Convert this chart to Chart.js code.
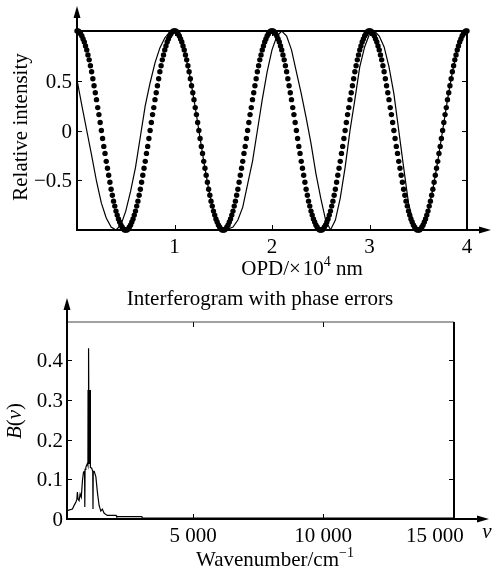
<!DOCTYPE html>
<html>
<head>
<meta charset="utf-8">
<script src="https://cdn.jsdelivr.net/npm/chart.js@4/dist/chart.umd.min.js"></script>
<style>
    html, body { margin: 0; padding: 0; background: #fff; }
    #wrap { position: relative; width: 493px; height: 569px; }
    #wrap canvas { position: absolute; left: 0; }
    #topChart { top: 0; }
    #bottomChart { top: 290px; }
</style>
</head>
<body>
<div id="wrap">
    <canvas id="topChart" width="493" height="290"></canvas>
    <canvas id="bottomChart" width="493" height="279"></canvas>
</div>
<script>
// ---- top: interferogram (OPD in 10^4 nm) ----
const dotStep = 0.0125;   // sampling of the ideal interferogram
const idealIntensity = [
    1,1,0.99,0.97,0.95,0.92,0.89,0.85,0.81,0.76,0.71,0.65,0.59,0.52,0.45,0.38,0.31,0.23,0.16,0.08,0,-0.08,-0.16,-0.23,-0.31,-0.38,-0.45,-0.52,-0.59,-0.65,-0.71,-0.76,-0.81,-0.85,-0.89,-0.92,-0.95,-0.97,-0.99,-1,-1,-1,-0.99,-0.97,-0.95,-0.92,-0.89,-0.85,-0.81,-0.76,-0.71,-0.65,-0.59,-0.52,-0.45,-0.38,-0.31,-0.23,-0.16,-0.08,0,0.08,0.16,0.23,0.31,0.38,0.45,0.52,0.59,0.65,0.71,0.76,0.81,0.85,0.89,0.92,0.95,0.97,0.99,1,
    1,1,0.99,0.97,0.95,0.92,0.89,0.85,0.81,0.76,0.71,0.65,0.59,0.52,0.45,0.38,0.31,0.23,0.16,0.08,0,-0.08,-0.16,-0.23,-0.31,-0.38,-0.45,-0.52,-0.59,-0.65,-0.71,-0.76,-0.81,-0.85,-0.89,-0.92,-0.95,-0.97,-0.99,-1,-1,-1,-0.99,-0.97,-0.95,-0.92,-0.89,-0.85,-0.81,-0.76,-0.71,-0.65,-0.59,-0.52,-0.45,-0.38,-0.31,-0.23,-0.16,-0.08,0,0.08,0.16,0.23,0.31,0.38,0.45,0.52,0.59,0.65,0.71,0.76,0.81,0.85,0.89,0.92,0.95,0.97,0.99,1,
    1,1,0.99,0.97,0.95,0.92,0.89,0.85,0.81,0.76,0.71,0.65,0.59,0.52,0.45,0.38,0.31,0.23,0.16,0.08,0,-0.08,-0.16,-0.23,-0.31,-0.38,-0.45,-0.52,-0.59,-0.65,-0.71,-0.76,-0.81,-0.85,-0.89,-0.92,-0.95,-0.97,-0.99,-1,-1,-1,-0.99,-0.97,-0.95,-0.92,-0.89,-0.85,-0.81,-0.76,-0.71,-0.65,-0.59,-0.52,-0.45,-0.38,-0.31,-0.23,-0.16,-0.08,0,0.08,0.16,0.23,0.31,0.38,0.45,0.52,0.59,0.65,0.71,0.76,0.81,0.85,0.89,0.92,0.95,0.97,0.99,1,
    1,1,0.99,0.97,0.95,0.92,0.89,0.85,0.81,0.76,0.71,0.65,0.59,0.52,0.45,0.38,0.31,0.23,0.16,0.08,0,-0.08,-0.16,-0.23,-0.31,-0.38,-0.45,-0.52,-0.59,-0.65,-0.71,-0.76,-0.81,-0.85,-0.89,-0.92,-0.95,-0.97,-0.99,-1,-1,-1,-0.99,-0.97,-0.95,-0.92,-0.89,-0.85,-0.81,-0.76,-0.71,-0.65,-0.59,-0.52,-0.45,-0.38,-0.31,-0.23,-0.16,-0.08,0,0.08,0.16,0.23,0.31,0.38,0.45,0.52,0.59,0.65,0.71,0.76,0.81,0.85,0.89,0.92,0.95,0.97,0.99,1,
    1
];

const solidStep = 0.05;   // interferogram with phase errors
const phaseErrIntensity = [
    0.51,0.25,0,-0.25,-0.51,-0.73,-0.88,-0.97,-1,-0.95,
    -0.81,-0.61,-0.37,-0.06,0.25,0.48,0.68,0.83,0.93,0.99,
    0.99,0.93,0.81,0.59,0.31,0,-0.31,-0.59,-0.81,-0.95,
    -1,-0.99,-0.97,-0.9,-0.77,-0.54,-0.31,0,0.31,0.59,
    0.81,0.95,1,0.95,0.81,0.59,0.37,0.13,-0.13,-0.43,
    -0.68,-0.9,-1,-0.9,-0.68,-0.37,0,0.31,0.64,0.84,
    0.97,1,0.95,0.84,0.64,0.37,0,-0.37,-0.73,-0.93,
    -1,-0.95,-0.81,-0.59,-0.31,0,0.31,0.59,0.81,0.95,1
];

const opdTicks = [1, 2, 3, 4];
const opdTickLabels = ['1', '2', '3', '4'];
const intensityTicks = [-0.5, 0, 0.5];
const intensityTickLabels = ['\u22120.5', '0', '0.5'];

// ---- bottom: recovered spectrum B(v) ----
const wavenumber = [150,360,430,490,530,550,575,615,655,700,745,785,825,835,845,875,935,
    955,960,965,970,975,980,985,990,995,1000,1005,1010,1015,1020,1025,1030,1035,1040,1045,
    1065,1100,1140,1150,1160,1195,1260,1320,1385,1450,1510,1575,1650,1700,2040,2060,3030,3050,15040];
const spectrumB = [0.021,0.025,0.035,0.042,0.05,0.068,0.05,0.046,0.063,0.055,0.097,0.118,0.12,0.03,0.125,0.13,0.14,
    0.135,0.325,0.14,0.325,0.14,0.325,0.14,0.325,0.43,0.14,0.325,0.14,0.325,0.14,0.325,0.14,0.325,0.14,0.135,
    0.13,0.128,0.12,0.025,0.12,0.12,0.107,0.067,0.034,0.02,0.025,0.015,0.011,0.009,0.009,0.006,0.006,0.002,0.002];

const wavenumberTicks = [5000, 10000, 15000];
const wavenumberTickLabels = ['5 000', '10 000', '15 000'];
const bTicks = [0, 0.1, 0.2, 0.3, 0.4];
const bTickLabels = ['0', '0.1', '0.2', '0.3', '0.4'];

const SERIF = '"Liberation Serif", "Times New Roman", serif';
const font = (size, italic) => (italic ? 'italic ' : '') + size + 'px ' + SERIF;

// draw a row of text pieces (for super/subscripts), centred on cx
function drawRuns(ctx, runs, cx, baseline) {
    let total = 0;
    runs.forEach(r => { ctx.font = r.font; total += ctx.measureText(r.text).width; });
    let x = cx - total / 2;
    ctx.textAlign = 'left';
    ctx.textBaseline = 'alphabetic';
    runs.forEach(r => {
        ctx.font = r.font;
        ctx.fillText(r.text, x, baseline + (r.dy || 0));
        x += ctx.measureText(r.text).width;
    });
}

function line(ctx, x1, y1, x2, y2) {
    ctx.beginPath();
    ctx.moveTo(x1, y1);
    ctx.lineTo(x2, y2);
    ctx.stroke();
}

// box, inner ticks, arrows and tick labels, all placed with the chart scales
const framePlugin = {
    id: 'frame',
    afterDatasetsDraw(chart, args, opts) {
        const { ctx, chartArea: a, scales: { x, y } } = chart;
        ctx.save();
        ctx.strokeStyle = '#000';
        ctx.fillStyle = '#000';

        ctx.lineWidth = 1;
        opts.xTicks.forEach(v => {
            const px = Math.round(x.getPixelForValue(v)) + 0.5;
            line(ctx, px, a.bottom, px, a.bottom - 5);
            line(ctx, px, a.top, px, a.top + 5);
        });
        opts.yTicks.forEach(v => {
            const py = Math.round(y.getPixelForValue(v)) + 0.5;
            line(ctx, a.left, py, a.left + 5, py);
            line(ctx, a.right, py, a.right - 5, py);
        });

        // top edge and right edge
        ctx.lineWidth = opts.topWidth;
        ctx.strokeStyle = opts.topColor;
        line(ctx, a.left, a.top, a.right, a.top);
        ctx.strokeStyle = '#000';
        ctx.lineWidth = 2;
        line(ctx, a.right, a.top, a.right, a.bottom);

        // axes with arrow heads
        line(ctx, a.left - 1, a.bottom, opts.xArrow - 10, a.bottom);
        line(ctx, a.left, a.bottom + 1, a.left, opts.yArrow + 10);
        ctx.beginPath();
        ctx.moveTo(opts.xArrow, a.bottom);
        ctx.lineTo(opts.xArrow - 12, a.bottom - 3.5);
        ctx.lineTo(opts.xArrow - 12, a.bottom + 3.5);
        ctx.closePath();
        ctx.fill();
        ctx.beginPath();
        ctx.moveTo(a.left, opts.yArrow);
        ctx.lineTo(a.left - 3.5, opts.yArrow + 12);
        ctx.lineTo(a.left + 3.5, opts.yArrow + 12);
        ctx.closePath();
        ctx.fill();

        // tick labels
        ctx.font = font(21);
        ctx.textBaseline = 'alphabetic';
        ctx.textAlign = 'right';
        opts.yTicks.forEach((v, i) => {
            ctx.fillText(opts.yLabels[i], a.left - opts.yLabelGap, y.getPixelForValue(v) + 7);
        });
        ctx.textAlign = 'center';
        opts.xTicks.forEach((v, i) => {
            const shift = (opts.xLabelShift && opts.xLabelShift[i]) || 0;
            ctx.fillText(opts.xLabels[i], x.getPixelForValue(v) + shift, opts.xLabelBase);
        });
        ctx.restore();
    }
};

const baseOptions = (padding, xMin, xMax, yMin, yMax) => ({
    responsive: false,
    animation: false,
    events: [],
    layout: { padding },
    plugins: { legend: { display: false }, tooltip: { enabled: false } },
    scales: {
        x: { type: 'linear', display: false, min: xMin, max: xMax },
        y: { type: 'linear', display: false, min: yMin, max: yMax }
    }
});

// ---------- top chart ----------
const topOpts = baseOptions({ left: 77, right: 26, top: 31, bottom: 60 }, 0, 4, -1, 1);
topOpts.plugins.frame = {
    xTicks: opdTicks, xLabels: opdTickLabels, xLabelBase: 253,
    yTicks: intensityTicks, yLabels: intensityTickLabels, yLabelGap: 5,
    topWidth: 2, topColor: '#000', xArrow: 491, yArrow: 6
};

new Chart(document.getElementById('topChart'), {
    type: 'line',
    data: {
        datasets: [
            {
                data: phaseErrIntensity.map((v, i) => ({ x: i * solidStep, y: v })),
                borderColor: '#000',
                borderWidth: 1.2,
                pointRadius: 0,
                tension: 0,
                clip: false
            },
            {
                data: idealIntensity.map((v, i) => ({ x: i * dotStep, y: v })),
                showLine: false,
                pointRadius: 2.7,
                pointBorderWidth: 0,
                pointBackgroundColor: '#000',
                clip: false
            }
        ]
    },
    options: topOpts,
    plugins: [framePlugin, {
        id: 'topText',
        afterDraw(chart) {
            const ctx = chart.ctx;
            ctx.save();
            ctx.fillStyle = '#000';
            drawRuns(ctx, [
                { text: 'OPD/\u00d7\u200a10', font: font(21) },
                { text: '4', font: font(14), dy: -9 },
                { text: ' nm', font: font(21) }
            ], 302, 275);
            ctx.translate(27, 127);
            ctx.rotate(-Math.PI / 2);
            drawRuns(ctx, [{ text: 'Relative intensity', font: font(21) }], 0, 0);
            ctx.restore();
        }
    }]
});

// ---------- bottom chart ----------
const botOpts = baseOptions({ left: 67, right: 39, top: 32, bottom: 50 }, 150, 15040, 0, 0.496);
botOpts.plugins.frame = {
    xTicks: wavenumberTicks, xLabels: wavenumberTickLabels, xLabelBase: 252, xLabelShift: [0, 0, -18],
    yTicks: bTicks, yLabels: bTickLabels, yLabelGap: 4,
    topWidth: 1, topColor: '#444', xArrow: 489, yArrow: 8
};

new Chart(document.getElementById('bottomChart'), {
    type: 'line',
    data: {
        datasets: [{
            data: wavenumber.map((w, i) => ({ x: w, y: spectrumB[i] })),
            borderColor: '#000',
            borderWidth: 1.2,
            pointRadius: 0,
            tension: 0
        }]
    },
    options: botOpts,
    plugins: [framePlugin, {
        id: 'bottomText',
        afterDraw(chart) {
            const ctx = chart.ctx;
            ctx.save();
            ctx.fillStyle = '#000';
            drawRuns(ctx, [{ text: 'Interferogram with phase errors', font: font(21) }], 260, 15);
            drawRuns(ctx, [
                { text: 'Wavenumber/cm', font: font(21) },
                { text: '\u22121', font: font(14), dy: -9 }
            ], 275, 276);
            drawRuns(ctx, [{ text: '\u03bd', font: font(21, true) }], 487, 248);
            ctx.translate(21, 131);
            ctx.rotate(-Math.PI / 2);
            drawRuns(ctx, [
                { text: 'B', font: font(21, true) },
                { text: '(', font: font(21) },
                { text: '\u03bd', font: font(21, true) },
                { text: ')', font: font(21) }
            ], 0, 0);
            ctx.restore();
        }
    }]
});
</script>
</body>
</html>
